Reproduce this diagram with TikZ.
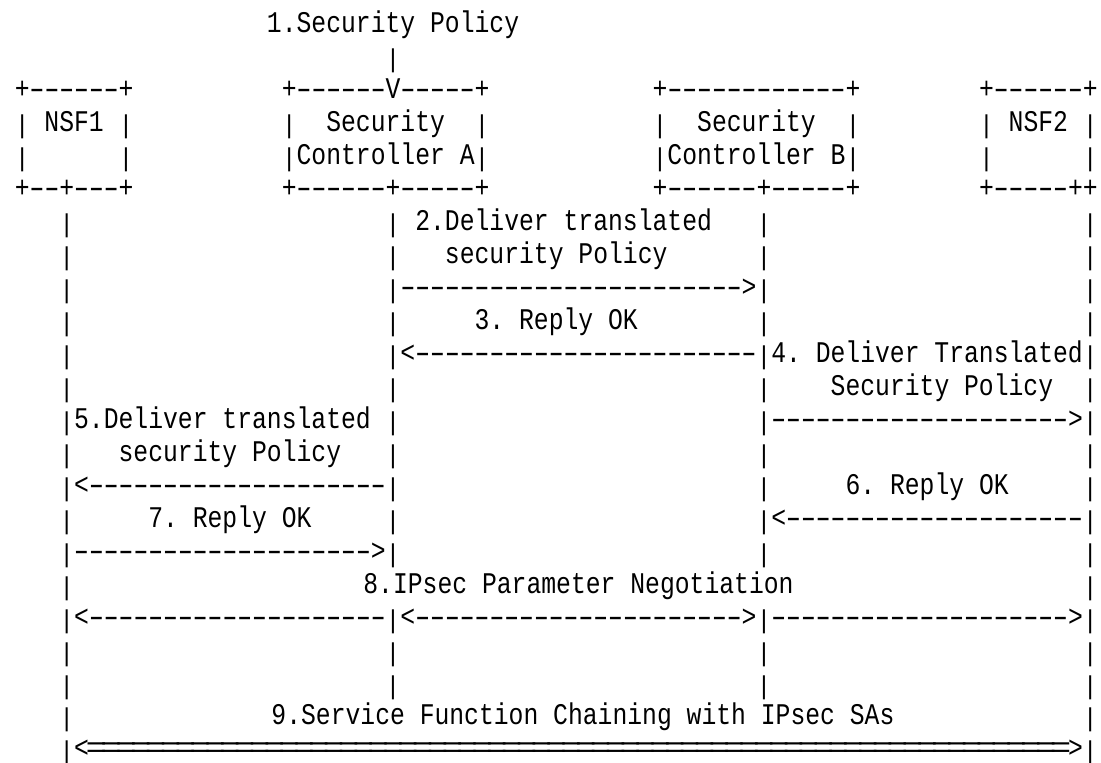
\documentclass[tikz,border=0pt]{standalone}
\usepackage{fontspec}
\usepackage{graphicx}
% condensed monospaced face for the character-cell drawing
\newfontfamily\ascfamily[FakeStretch=0.824]{Liberation Mono}
\newcommand\ascfont{\ascfamily\fontsize{15pt}{15pt}\selectfont\frenchspacing}
% width of one character cell (0.6001em x 15pt x 0.824)
\newlength\cw
\setlength\cw{7.417pt}
\ExplSyntaxOn
\cs_new:Npn \reprun #1 #2 { \prg_replicate:nn {#1} {#2} }
\ExplSyntaxOff
% one cell of a horizontal run
\newcommand\dashcell{\makebox[\cw][c]{\scalebox{1.6}[1]{-}}}
\newcommand\eqcell{\makebox[\cw][c]{\scalebox{1.45}[1]{=}}}
\newcommand\D[1]{\reprun{#1}{\dashcell}}
\newcommand\E[1]{\reprun{#1}{\eqcell}}
% vertical bar, a little shorter so that rows stay apart
\newcommand\B{\raisebox{-1pt}{\scalebox{1}[0.86]{|}}}
% place text starting at a given column of the row
\newcommand\seg[2]{\rlap{\hspace*{#1\cw}#2}\ignorespaces}
\newcommand\lifelines{\seg{3}{\B}\seg{25}{\B}\seg{50}{\B}\seg{72}{\B}}
\tikzset{
  asciirow/.style={anchor=base west, inner sep=0pt, outer sep=0pt,
    font=\ascfont, text=black}
}
\begin{document}
\begin{tikzpicture}[x=0.5pt,y=-0.5pt]
\fill[white] (0,0) rectangle (1101,763);
\useasboundingbox (0,0) rectangle (1101,763);
% header: policy input and the four entities
\node[asciirow] (r0) at (13.8,33.0) {\seg{17}{1.Security Policy}};
\node[asciirow] (r1) at (13.8,65.95) {\seg{25}{\B}};
\node[asciirow] (r2) at (13.8,98.9) {\seg{0}{+\D{6}+}\seg{18}{+\D{6}V\D{5}+}\seg{43}{+\D{12}+}\seg{65}{+\D{6}+}};
\node[asciirow] (r3) at (13.8,131.85) {\seg{0}{\B}\seg{2}{NSF1}\seg{7}{\B}\seg{18}{\B}\seg{21}{Security}\seg{31}{\B}\seg{43}{\B}\seg{46}{Security}\seg{56}{\B}\seg{65}{\B}\seg{67}{NSF2}\seg{72}{\B}};
\node[asciirow] (r4) at (13.8,164.8) {\seg{0}{\B}\seg{7}{\B}\seg{18}{\B Controller A\B}\seg{43}{\B Controller B\B}\seg{65}{\B}\seg{72}{\B}};
\node[asciirow] (r5) at (13.8,197.75) {\seg{0}{+\D{2}+\D{3}+}\seg{18}{+\D{6}+\D{5}+}\seg{43}{+\D{6}+\D{5}+}\seg{65}{+\D{5}++}};
% message exchange
\node[asciirow] (r6) at (13.8,230.7) {\lifelines\seg{27}{2.Deliver translated}};
\node[asciirow] (r7) at (13.8,263.65) {\lifelines\seg{29}{security Policy}};
\node[asciirow] (r8) at (13.8,296.6) {\seg{3}{\B}\seg{25}{\B\D{23}>\B}\seg{72}{\B}};
\node[asciirow] (r9) at (13.8,329.55) {\lifelines\seg{31}{3. Reply OK}};
\node[asciirow] (r10) at (13.8,362.5) {\seg{3}{\B}\seg{25}{\B<\D{23}\B}\seg{51}{4. Deliver Translated}\seg{72}{\B}};
\node[asciirow] (r11) at (13.8,395.45) {\lifelines\seg{55}{Security Policy}};
\node[asciirow] (r12) at (13.8,428.4) {\seg{3}{\B}\seg{4}{5.Deliver translated}\seg{25}{\B}\seg{50}{\B\D{20}>\B}};
\node[asciirow] (r13) at (13.8,461.35) {\lifelines\seg{7}{security Policy}};
\node[asciirow] (r14) at (13.8,494.3) {\seg{3}{\B<\D{20}\B}\seg{50}{\B}\seg{56}{6. Reply OK}\seg{72}{\B}};
\node[asciirow] (r15) at (13.8,527.25) {\seg{3}{\B}\seg{9}{7. Reply OK}\seg{25}{\B}\seg{50}{\B<\D{20}\B}};
\node[asciirow] (r16) at (13.8,560.2) {\seg{3}{\B\D{20}>\B}\seg{50}{\B}\seg{72}{\B}};
\node[asciirow] (r17) at (13.8,593.15) {\seg{3}{\B}\seg{23.5}{8.IPsec Parameter Negotiation}\seg{72}{\B}};
\node[asciirow] (r18) at (13.8,626.1) {\seg{3}{\B<\D{20}\B<\D{22}>\B\D{20}>\B}};
\node[asciirow] (r19) at (13.8,659.05) {\lifelines};
\node[asciirow] (r20) at (13.8,692.0) {\lifelines};
\node[asciirow] (r21) at (13.8,724.95) {\seg{3}{\B}\seg{17.3}{9.Service Function Chaining with IPsec SAs}\seg{72}{\B}};
\node[asciirow] (r22) at (13.8,757.9) {\seg{3}{\B<\E{66}>\B}};
\end{tikzpicture}
\end{document}
